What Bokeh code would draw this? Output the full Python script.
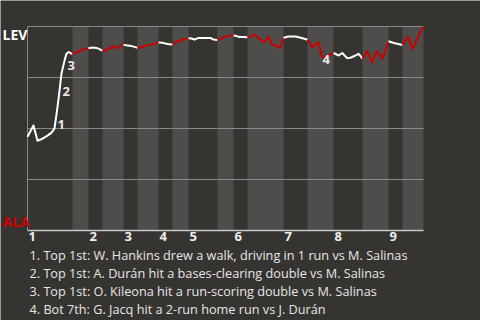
from bokeh.plotting import figure
from bokeh.models import Range1d, Label
from bokeh.core.properties import value
from bokeh.embed import file_html
from bokeh.resources import INLINE

# ---- data -------------------------------------------------------------
# game progress (plate appearances, approx.) and LEV win probability (%)
play = [0, 1.5, 2.5, 3.75, 5, 6, 6.75, 7.5, 8, 8.5, 9.1, 9.7, 10.3, 10.9,
        11.25, 12.25, 13.25, 14.25, 15.25, 16.25, 17.25, 18.25, 18.75,
        19.75, 20.75, 21.5, 22.4, 23, 23.7, 24, 25, 26, 26.75, 27.5,
        28.5, 29.5, 30.5, 31.25, 32, 32.75, 33.75, 34.75, 35.75, 36.25,
        37, 37.75, 38.5, 39.25, 40.25, 41, 41.75, 42.75, 44.25, 45.75,
        46.5, 47.5, 48.25, 49, 50, 50.75, 51.5, 52.25, 53, 54, 55,
        55.75, 56.6, 57.4, 58.25, 59.1, 59.75, 60.3, 61, 62, 63, 63.7,
        64, 65.25, 67, 68.25, 69, 70, 71.2, 72, 72.8, 73.5, 74, 75.25,
        76.5, 77.8, 78.7, 79.9, 80.75, 82, 82.8, 83.75, 84.9, 86.2, 87.4,
        88.7, 89.5, 90.25, 91.6, 93.25, 93.75, 95.1, 96.3, 98.25, 99]
lev_wp = [46, 51.5, 44, 45, 46.5, 48, 50, 60.5, 68.5, 77, 82, 86.5, 87.5, 86.8,
          86.5, 87.3, 88.2, 88.9, 89.3, 89.7, 89.5, 88.7, 88.0,
          88.5, 89.5, 90.2, 89.1, 90.2, 91.0, 91.0, 90.7, 90.4, 90.0, 89.5,
          89.8, 90.5, 91.0, 91.2, 91.7, 92.2, 92.0, 91.5, 91.2, 91.3,
          92.2, 92.9, 93.4, 93.6, 94.2, 94.1, 93.6, 94.4, 94.4, 94.4,
          93.6, 93.4, 93.9, 94.9, 95.1, 95.6, 95.6, 95.3, 94.9, 94.9, 94.7,
          95.1, 96.1, 94.8, 93.5, 92.3, 93.6, 95.1, 91.5, 90.7, 89.5, 92.3,
          94.5, 95.1, 95.1, 94.5, 94.1, 93.5, 89.9, 91.2, 92.3, 85.8, 84.8, 85.8,
          87.0, 85.8, 87.0, 84.5, 84.7, 85.8, 86.6, 84.2, 87.9, 82.5, 87.9,
          84.2, 88.2, 92.8, 91.9, 91.2, 90.9, 94.9, 89.0, 97.4, 100]

innings = ["1", "2", "3", "4", "5", "6", "7", "8", "9"]
top_start = [0, 15.25, 24, 32.75, 40.25, 51.5, 64, 76.5, 90.25]
bot_start = [11.25, 18.75, 27.5, 36.25, 47.5, 55, 70, 83.75, 93.75]
game_end = 99
wp_grid = [0, 25, 50, 75, 100]

event_ids = ["1", "2", "3", "4"]
event_play = [6.5, 7.75, 9.0, 72.75]
event_wp = [52.9, 69.1, 81.9, 84.8]

notes = [
    "1. Top 1st: W. Hankins drew a walk, driving in 1 run vs M. Salinas",
    "2. Top 1st: A. Durán hit a bases-clearing double vs M. Salinas",
    "3. Top 1st: O. Kileona hit a run-scoring double vs M. Salinas",
    "4. Bot 7th: G. Jacq hit a 2-run home run vs J. Durán",
]
away_team, home_team = "LEV", "ALA"

# ---- style ------------------------------------------------------------
BG = "#363431"
STRIPE = "#4e4d4b"
GRID = "#8a8987"
RED = "#cc0000"
FONT = "Open Sans"

# the frame covers the whole canvas so that side texts are not clipped
p = figure(width=480, height=320, output_backend="svg", toolbar_location=None,
           x_axis_type=None, y_axis_type=None,
           x_range=Range1d(-6.75, 113.25), y_range=Range1d(-44.12, 112.75),
           min_border=0)
p.background_fill_color = BG
p.border_fill_color = BG
p.outline_line_color = None

# bottom-half stripes
bot_end = top_start[1:] + [game_end]
p.quad(left=bot_start, right=bot_end, bottom=0, top=100,
       fill_color=STRIPE, line_color=None)

# horizontal grid
p.segment(x0=0, x1=game_end, y0=wp_grid[1:], y1=wp_grid[1:],
          line_color=GRID, line_width=1)
# axis lines
p.segment(x0=[0], x1=[0], y0=[0], y1=[100], line_color=GRID, line_width=1)
p.segment(x0=[0], x1=[game_end], y0=[0], y1=[0], line_color="#c8c8c8",
          line_width=1.5)

# line segments per half inning
bounds = sorted(top_start + bot_start) + [game_end]
xs, ys, cols = [], [], []
for i in range(len(bounds) - 1):
    a, b = bounds[i], bounds[i + 1]
    sx = [u for u in play if a - 1e-9 <= u <= b + 1e-9]
    sy = [w for u, w in zip(play, lev_wp) if a - 1e-9 <= u <= b + 1e-9]
    xs.append(sx)
    ys.append(sy)
    cols.append("#ffffff" if a in top_start else RED)
p.multi_line(xs=xs, ys=ys, line_color=cols, line_width=2,
             line_join="round")

# event markers
p.text(x=event_play, y=event_wp, text=event_ids, text_color="#e8e8e8",
       text_font=value(FONT), text_font_style="bold", text_font_size="13px",
       text_align="left", text_baseline="middle", x_offset=4, y_offset=2)

# inning labels
p.text(x=top_start, y=0, text=innings, text_color="#eeeeee",
       text_font=value(FONT), text_font_style="bold", text_font_size="13px",
       text_align="left", text_baseline="top", x_offset=1, y_offset=2)

# team labels (screen coordinates)
p.add_layout(Label(x=2, y=286, x_units="screen", y_units="screen",
                   text=away_team, text_color="#ffffff", text_font=FONT,
                   text_font_style="bold", text_font_size="14px",
                   text_baseline="middle"))
p.add_layout(Label(x=2, y=99, x_units="screen", y_units="screen",
                   text=home_team, text_color=RED, text_font=FONT,
                   text_font_style="bold", text_font_size="14px",
                   text_baseline="middle"))

# notes
for i, n in enumerate(notes):
    p.add_layout(Label(x=29, y=66 - 18 * i, x_units="screen", y_units="screen",
                       text=n, text_color="#e6e6e6", text_font=FONT,
                       text_font_size="12.7px", text_baseline="middle"))

open("out.html", "w").write(file_html(p, INLINE))
